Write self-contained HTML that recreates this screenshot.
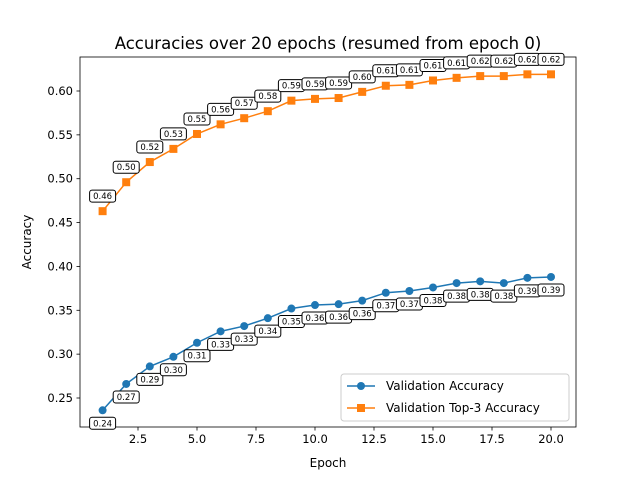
<!DOCTYPE html>
<html><head><meta charset="utf-8"><style>
body{margin:0;background:#fff;font-family:"Liberation Sans","DejaVu Sans",sans-serif;}
svg text{font-family:"DejaVu Sans","Liberation Sans",sans-serif;}
</style></head><body>
<svg id="chart" width="640" height="480" xmlns="http://www.w3.org/2000/svg">
<rect width="640" height="480" fill="#fff"/>
<text x="328" y="49" font-size="16.5" text-anchor="middle">Accuracies over 20 epochs (resumed from epoch 0)</text>
<g id="axes"></g>
<g id="series"></g>
<g id="labels"></g>
<text x="328" y="467" font-size="12" text-anchor="middle">Epoch</text>
<text x="31" y="242" font-size="12" text-anchor="middle" transform="rotate(-90 31 242)">Accuracy</text>
<g>
<rect x="341" y="374" width="228" height="47" rx="3" fill="#fff" fill-opacity="0.8" stroke="#ccc"/>
<g>
<line x1="347" y1="386" x2="375" y2="386" stroke="#1f77b4" stroke-width="1.5"/><circle cx="361" cy="386" r="4" fill="#1f77b4"/>
<text x="386" y="390" font-size="12">Validation Accuracy</text></g>
<g>
<line x1="347" y1="408" x2="375" y2="408" stroke="#ff7f0e" stroke-width="1.5"/><rect x="357" y="404" width="8" height="8" fill="#ff7f0e"/>
<text x="386" y="412" font-size="12">Validation Top-3 Accuracy</text></g>
</g>
</svg>
<script>
const epochs=[1,2,3,4,5,6,7,8,9,10,11,12,13,14,15,16,17,18,19,20];
const valAcc=[0.236,0.266,0.286,0.297,0.313,0.326,0.332,0.341,0.352,0.356,0.357,0.361,0.370,0.372,0.376,0.381,0.383,0.381,0.387,0.388];
const top3Acc=[0.463,0.496,0.519,0.534,0.551,0.562,0.569,0.577,0.589,0.591,0.592,0.599,0.606,0.607,0.612,0.615,0.617,0.617,0.619,0.619];
const xTicks=[2.5,5.0,7.5,10.0,12.5,15.0,17.5,20.0];
const yTicks=[0.25,0.30,0.35,0.40,0.45,0.50,0.55,0.60];
const NS="http://www.w3.org/2000/svg";
const L=80,R=576,T=57,B=427;
function xs(v){return 138+(v-2.5)*(197-138)/2.5;}
function ys(v){return 398-(v-0.25)*(398-91)/0.35;}
function mk(tag,attrs,parent){const e=document.createElementNS(NS,tag);for(const k in attrs)e.setAttribute(k,attrs[k]);parent.appendChild(e);return e;}
const axes=document.getElementById('axes');
const frame=mk('rect',{x:L,y:T,width:R-L,height:B-T,fill:'none',stroke:'#000','stroke-width':0.8},axes);


xTicks.forEach(t=>{const x=xs(t);mk('line',{x1:x,y1:B,x2:x,y2:B+3.5,stroke:'#000','stroke-width':0.8},axes);
const tx=mk('text',{x:x,y:B+16,'font-size':11.5,'text-anchor':'middle'},axes);tx.textContent=t.toFixed(1);

});
yTicks.forEach(t=>{const y=ys(t);mk('line',{x1:L-3.5,y1:y,x2:L,y2:y,stroke:'#000','stroke-width':0.8},axes);
const tx=mk('text',{x:L-7,y:y+4,'font-size':11.5,'text-anchor':'end'},axes);tx.textContent=t.toFixed(2);

});
const ser=document.getElementById('series'),lab=document.getElementById('labels');
function draw(vals,color,shape,name,dy){
 const pl=mk('polyline',{points:vals.map((v,i)=>xs(epochs[i])+','+ys(v)).join(' '),fill:'none',stroke:color,'stroke-width':1.5},ser);
 
 
 vals.forEach((v,i)=>{const x=xs(epochs[i]),y=ys(v);let m;
  if(shape==='c')m=mk('circle',{cx:x,cy:y,r:4,fill:color},ser);else m=mk('rect',{x:x-4,y:y-4,width:8,height:8,fill:color},ser);
  
  
  const g=mk('g',{},lab);
  
  
  const cy=y+dy;
  mk('rect',{x:x-13,y:cy-6,width:26,height:12,rx:2.5,fill:'#fff',stroke:'#000','stroke-width':1},g);
  const t=mk('text',{x:x,y:cy+3,'font-size':8.5,'text-anchor':'middle'},g);t.textContent=v.toFixed(2);});
}
draw(valAcc,'#1f77b4','c','validation-accuracy',13);
draw(top3Acc,'#ff7f0e','s','validation-top3-accuracy',-15);
</script>
</body></html>
